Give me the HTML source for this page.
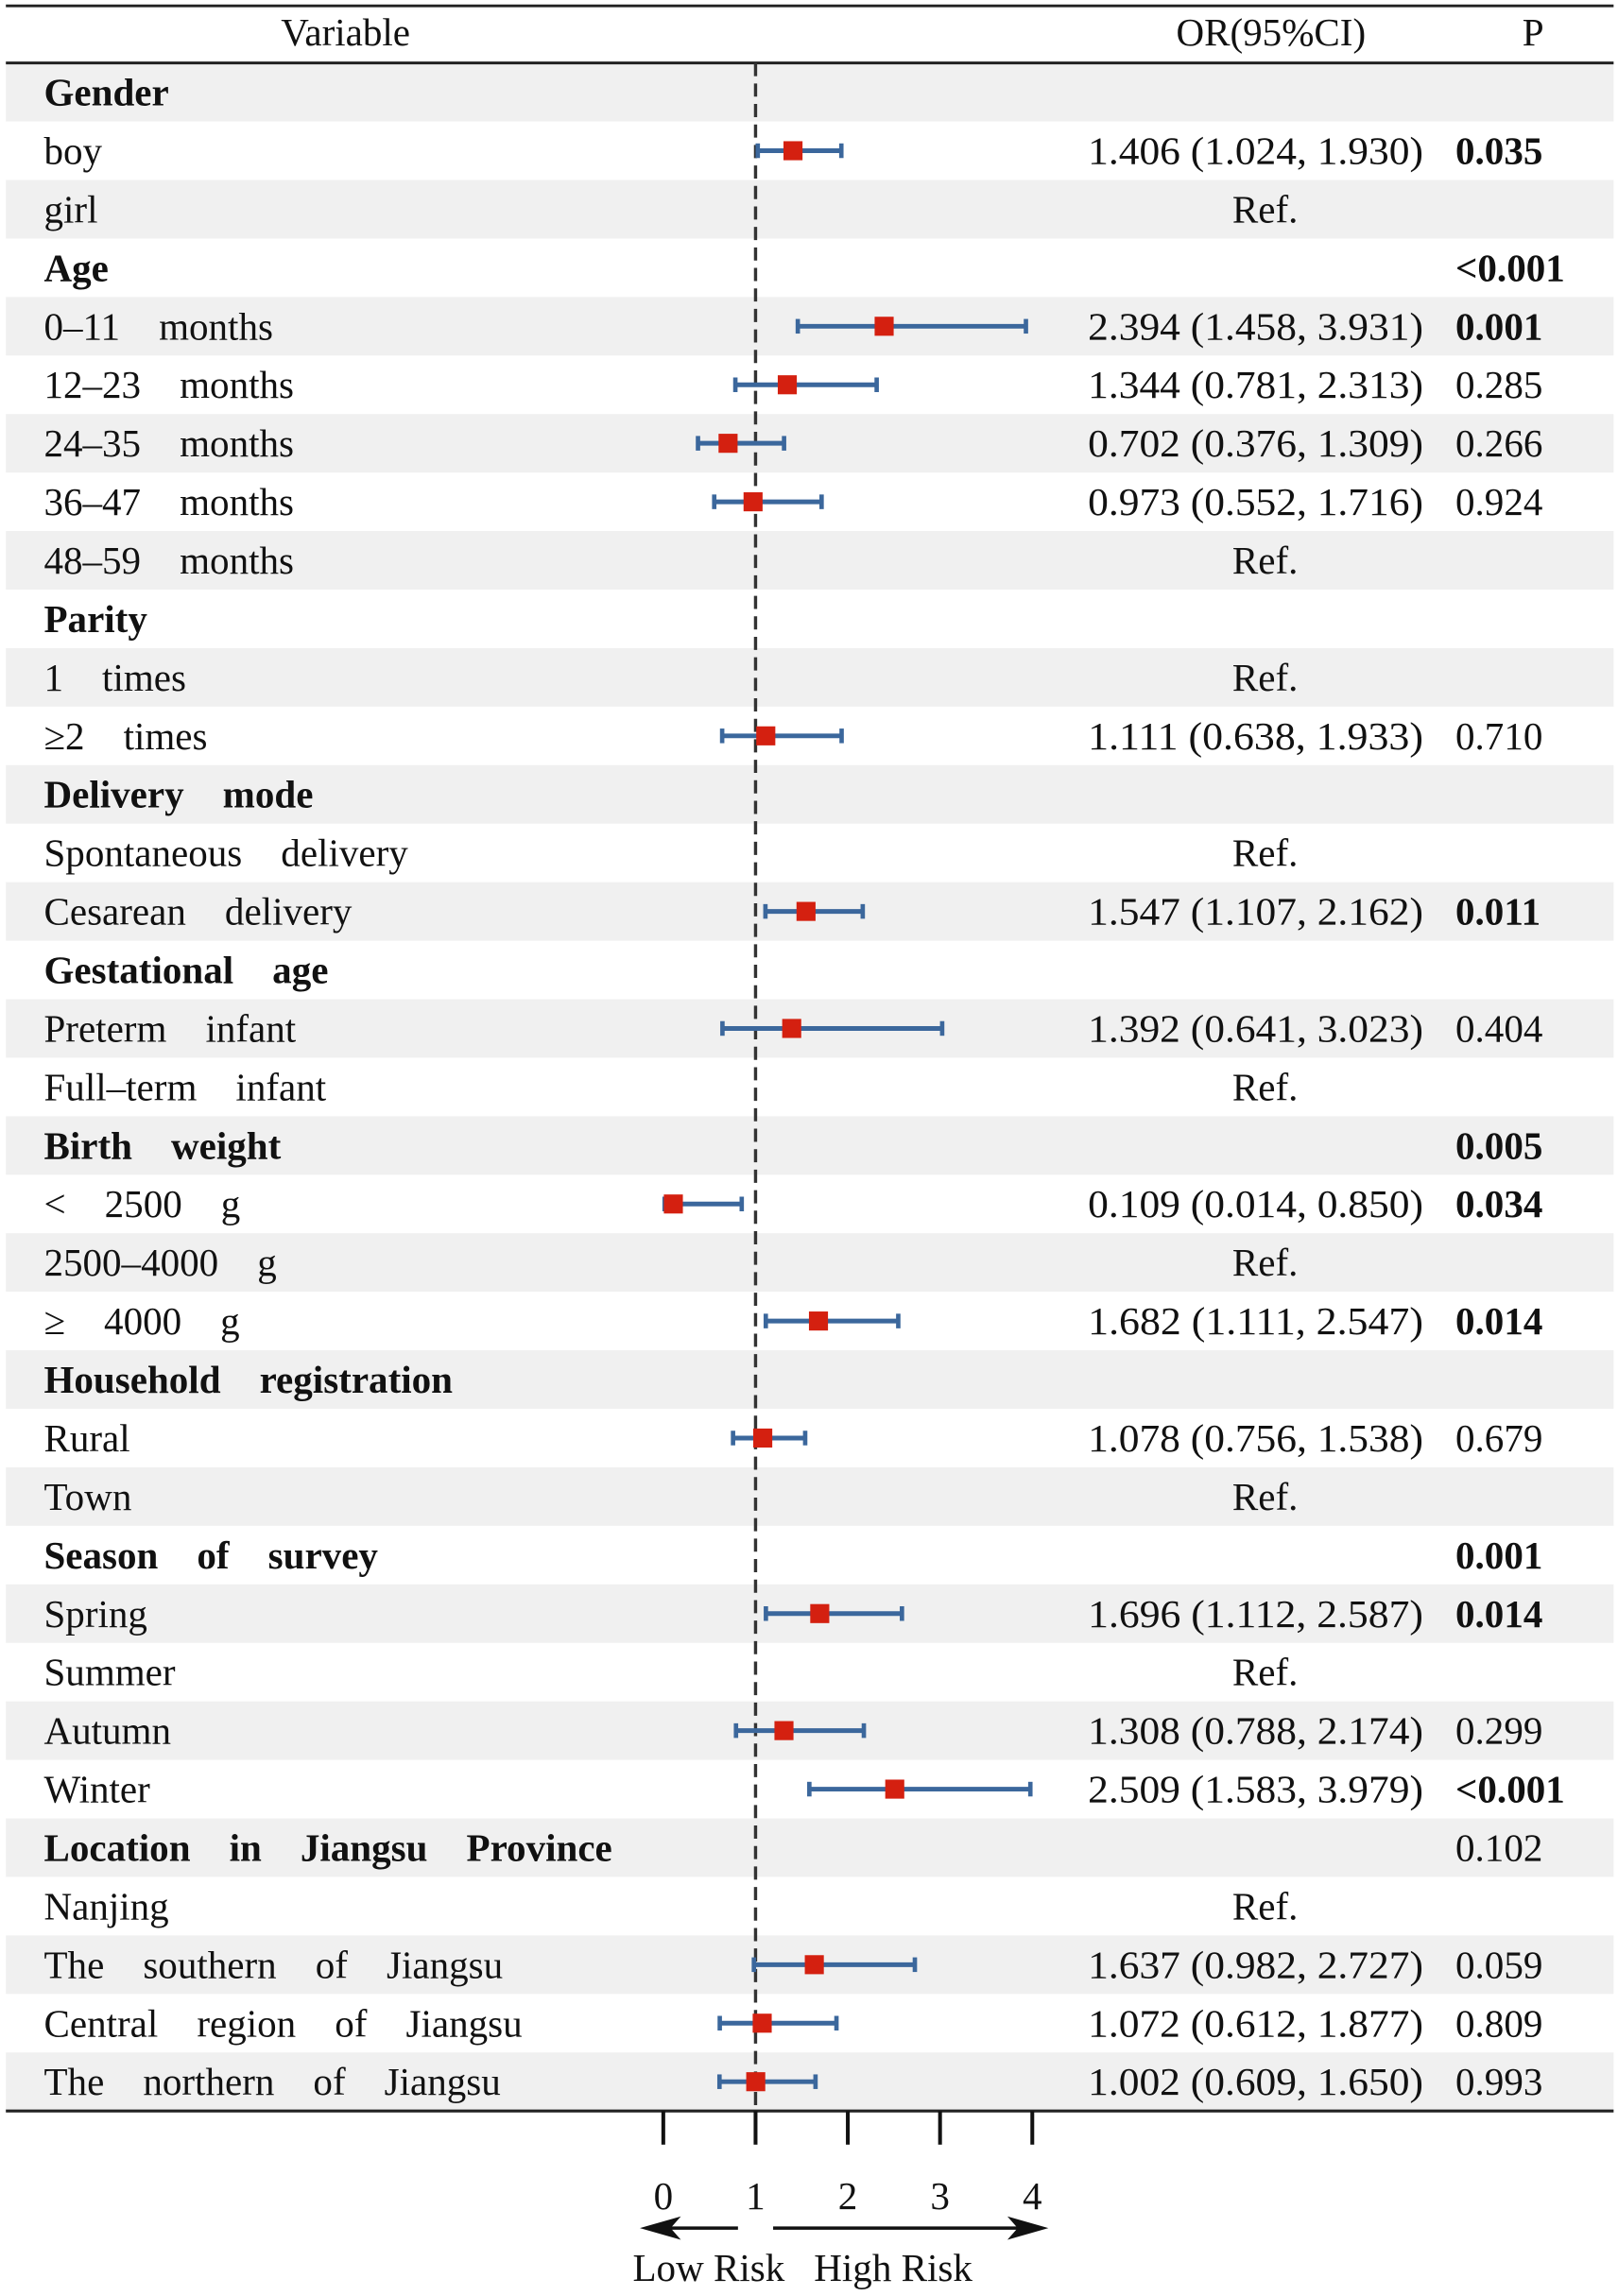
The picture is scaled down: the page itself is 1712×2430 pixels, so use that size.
<!DOCTYPE html>
<html><head><meta charset="utf-8"><style>
html,body{margin:0;padding:0;background:#fff;}
svg{display:block;}
text{font-family:"Liberation Serif","Noto Serif CJK SC",serif;fill:#111;}
</style></head><body>
<svg id="chart" width="1712" height="2430" viewBox="0 0 1105 1568.4" preserveAspectRatio="none" xmlns="http://www.w3.org/2000/svg"></svg>
<script>
const labels = ["Gender","boy","girl","Age","0–11　months","12–23　months","24–35　months","36–47　months","48–59　months","Parity","1　times","≥2　times","Delivery　mode","Spontaneous　delivery","Cesarean　delivery","Gestational　age","Preterm　infant","Full–term　infant","Birth　weight","<　2500　g","2500–4000　g","≥　4000　g","Household　registration","Rural","Town","Season　of　survey","Spring","Summer","Autumn","Winter","Location　in　Jiangsu　Province","Nanjing","The　southern　of　Jiangsu","Central　region　of　Jiangsu","The　northern　of　Jiangsu"];
const isHeader = [1,0,0,1,0,0,0,0,0,1,0,0,1,0,0,1,0,0,1,0,0,0,1,0,0,1,0,0,0,0,1,0,0,0,0];
const orVals = [null,1.406,null,null,2.394,1.344,0.702,0.973,null,null,null,1.111,null,null,1.547,null,1.392,null,null,0.109,null,1.682,null,1.078,null,null,1.696,null,1.308,2.509,null,null,1.637,1.072,1.002];
const lowVals = [null,1.024,null,null,1.458,0.781,0.376,0.552,null,null,null,0.638,null,null,1.107,null,0.641,null,null,0.014,null,1.111,null,0.756,null,null,1.112,null,0.788,1.583,null,null,0.982,0.612,0.609];
const highVals = [null,1.930,null,null,3.931,2.313,1.309,1.716,null,null,null,1.933,null,null,2.162,null,3.023,null,null,0.850,null,2.547,null,1.538,null,null,2.587,null,2.174,3.979,null,null,2.727,1.877,1.650];
const refRows = [2,8,10,13,17,20,24,27,31];
const pVals = ["","0.035","","<0.001","0.001","0.285","0.266","0.924","","","","0.710","","","0.011","","0.404","","0.005","0.034","","0.014","","0.679","","0.001","0.014","","0.299","<0.001","0.102","","0.059","0.809","0.993"];
const pBold = [0,1,0,1,1,0,0,0,0,0,0,0,0,0,1,0,0,0,1,1,0,1,0,0,0,1,1,0,0,1,0,0,0,0,0];
const ticks = [0,1,2,3,4];

const svg = document.getElementById('chart');
const NS = "http://www.w3.org/2000/svg";
const top0 = 43, rowH = (1442-43)/35;
const xS = v => 453 + v*63;
const yC = i => top0 + rowH*(i+0.5);
const FS = 26.5;
function mk(tag, attrs, parent){const e=document.createElementNS(NS,tag);for(const k in attrs)e.setAttribute(k,attrs[k]);(parent||svg).appendChild(e);return e;}
function txt(s,x,y,anchor,weight,size){const t=mk('text',{x:x,y:y,'text-anchor':anchor||'start','font-size':size||FS,'font-weight':weight||'normal','dominant-baseline':'central'});t.textContent=s;return t;}

for(let i=0;i<labels.length;i++){
  if(i%2===0){const r=mk('rect',{x:4,y:top0+rowH*i,width:1098,height:rowH,fill:'#f0f0f0'});
  
  }
}
let l=mk('line',{x1:4,y1:4,x2:1102,y2:4,stroke:'#222','stroke-width':1.8});

l=mk('line',{x1:4,y1:43,x2:1102,y2:43,stroke:'#222','stroke-width':2});

l=mk('line',{x1:4,y1:1442,x2:1102,y2:1442,stroke:'#222','stroke-width':2});

let t=txt('Variable',236,22,'middle');
t=txt('OR(95%CI)',868,22,'middle');
t=txt('P',1047,22,'middle');

l=mk('line',{x1:xS(1),y1:43,x2:xS(1),y2:1442,stroke:'#333','stroke-width':2.2,'stroke-dasharray':'9 5'});


for(let i=0;i<labels.length;i++){
  const y=yC(i);
  t=txt(labels[i],30,y,'start',isHeader[i]?'bold':'normal');
  
  
  if(orVals[i]!==null){
    const g=mk('g',{});
    
    
    mk('line',{x1:xS(lowVals[i]),y1:y,x2:xS(highVals[i]),y2:y,stroke:'#3b679c','stroke-width':3.2},g);
    mk('line',{x1:xS(lowVals[i]),y1:y-5,x2:xS(lowVals[i]),y2:y+5,stroke:'#3b679c','stroke-width':3},g);
    mk('line',{x1:xS(highVals[i]),y1:y-5,x2:xS(highVals[i]),y2:y+5,stroke:'#3b679c','stroke-width':3},g);
    mk('rect',{x:xS(orVals[i])-6.5,y:y-6.5,width:13,height:13,fill:'#d42010'},g);
    t=txt(orVals[i].toFixed(3)+' ('+lowVals[i].toFixed(3)+', '+highVals[i].toFixed(3)+')',972,y,'end');
    t.setAttribute('textLength','229');
    t.setAttribute('lengthAdjust','spacingAndGlyphs');
    
    
  }
  if(refRows.includes(i)){
    t=txt('Ref.',864,y,'middle');
    
    
  }
  if(pVals[i]){
    t=txt(pVals[i],994,y,'start',pBold[i]?'bold':'normal');
    
    
  }
}
ticks.forEach(v=>{
  const tk=mk('line',{x1:xS(v),y1:1442,x2:xS(v),y2:1465,stroke:'#111','stroke-width':2.6});
  
  
  const tl=txt(String(v),xS(v),1500,'middle');
  
  
});
const ag=mk('g',{});


mk('line',{x1:445,y1:1522,x2:504,y2:1522,stroke:'#111','stroke-width':2.2},ag);
mk('path',{d:'M437 1522 L465 1514 L458 1522 L465 1530 Z',fill:'#111'},ag);
mk('line',{x1:528,y1:1522,x2:708,y2:1522,stroke:'#111','stroke-width':2.2},ag);
mk('path',{d:'M716 1522 L688 1514 L695 1522 L688 1530 Z',fill:'#111'},ag);
t=txt('Low Risk',484,1549,'middle');
t=txt('High Risk',610,1549,'middle');
</script>
</body></html>
